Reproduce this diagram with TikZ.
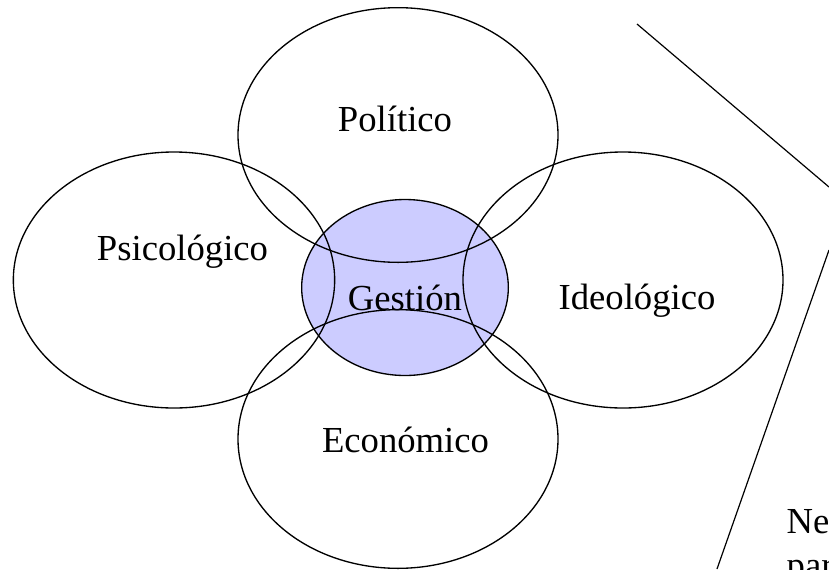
\documentclass[tikz,border=0pt]{standalone}
\usepackage{fontspec}
\setmainfont{Liberation Serif}
\usepackage{tikz}
\usetikzlibrary{shapes.geometric}
\definecolor{gestfill}{RGB}{204,204,255}

\begin{document}
\begin{tikzpicture}[
    x=0.75pt, y=-0.75pt,
    area/.style={ellipse, draw, line width=1pt, inner sep=0pt},
    core/.style={ellipse, draw, fill=gestfill, line width=1pt, inner sep=0pt},
    label/.style={anchor=base, font=\fontsize{27.5}{32.4}\selectfont},
    edge/.style={line width=0.9pt}
]
    \useasboundingbox (0,0) rectangle (829,569);

    % Central area (drawn first so the outlines lie over its fill)
    \node[core, minimum width=155pt, minimum height=132pt] (gestion) at (405,287.5) {};

    % Surrounding areas
    \node[area, minimum width=240pt, minimum height=191pt] (politico) at (398,135) {};
    \node[area, minimum width=241pt, minimum height=192pt] (psicologico) at (174,280) {};
    \node[area, minimum width=240pt, minimum height=192pt] (ideologico) at (623,280) {};
    \node[area, minimum width=240pt, minimum height=194pt] (economico) at (398,439) {};

    % Labels
    \node[label] (tpolitico) at (395,131) {Político};
    \node[label] (tpsicologico) at (182.5,260) {Psicológico};
    \node[label] (tgestion) at (405,310) {Gestión};
    \node[label] (tideologico) at (637,309) {Ideológico};
    \node[label] (teconomico) at (405.5,452) {Económico};

    % Callout on the right
    \coordinate (calltop) at (637,24);
    \coordinate (callright) at (829,187);
    \coordinate (callback) at (829,250);
    \coordinate (callbottom) at (717,569);
    \draw[edge] (calltop) -- (callright);
    \draw[edge] (callback) -- (callbottom);
    \node[label, anchor=base west, align=left] (need) at (782,577) {Nec\\par};
\end{tikzpicture}
\end{document}
